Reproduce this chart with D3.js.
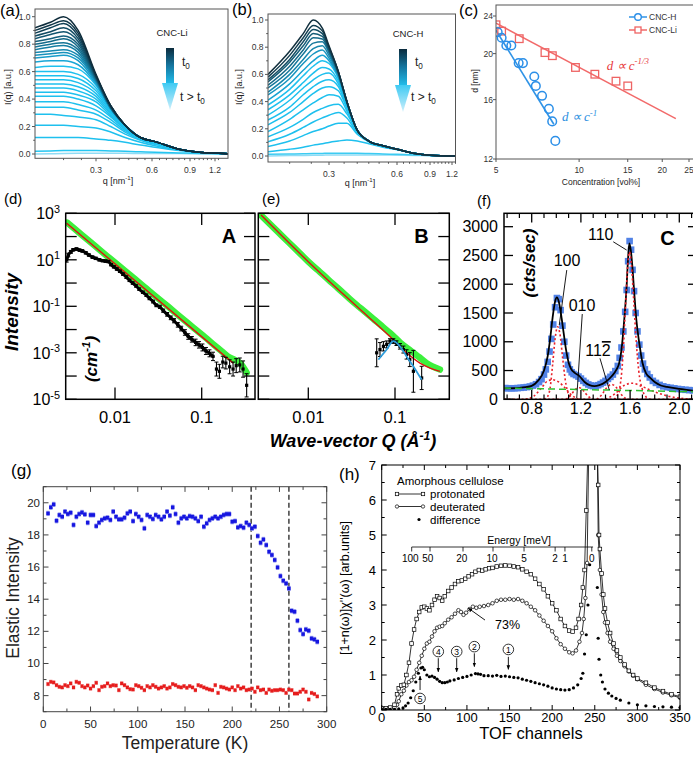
<!DOCTYPE html>
<html><head><meta charset="utf-8">
<script src="https://cdn.jsdelivr.net/npm/d3@7"></script>
<style>html,body{margin:0;padding:0;background:#fff;}svg{display:block;}</style>
</head><body>
<svg id="fig" width="693" height="757" viewBox="0 0 693 757"></svg>
<script>
// ================= DATA =================
// (a) CNC-Li SAXS curves, I(q) at fixed q grid, top (t0) to bottom (t>t0)
const aQ=[0.14,0.17,0.2,0.24,0.3,0.36,0.43,0.52,0.62,0.8,1.0,1.4];
const aCurves=[
[.92,.96,1.0,.90,.58,.35,.21,.12,.09,.035,.012,.002],
[.90,.94,.97,.88,.57,.35,.21,.12,.09,.035,.012,.002],
[.88,.92,.95,.86,.57,.35,.21,.12,.09,.035,.012,.002],
[.86,.89,.92,.84,.56,.35,.21,.12,.09,.035,.012,.002],
[.84,.87,.89,.82,.56,.34,.21,.12,.09,.035,.012,.002],
[.82,.84,.86,.80,.55,.34,.21,.12,.09,.035,.012,.002],
[.80,.82,.84,.78,.55,.34,.21,.12,.09,.035,.012,.002],
[.78,.80,.81,.76,.54,.34,.21,.12,.09,.035,.012,.002],
[.76,.78,.79,.74,.54,.34,.21,.12,.09,.035,.012,.002],
[.74,.75,.76,.72,.53,.33,.21,.12,.09,.035,.012,.002],
[.72,.73,.74,.70,.53,.33,.21,.12,.09,.035,.012,.002],
[.70,.71,.72,.68,.52,.33,.21,.12,.09,.035,.012,.002],
[.67,.68,.68,.65,.51,.33,.21,.12,.09,.035,.012,.002],
[.63,.64,.64,.62,.50,.33,.21,.12,.09,.035,.012,.002],
[.60,.60,.60,.58,.48,.32,.21,.12,.09,.035,.012,.002],
[.57,.57,.57,.55,.46,.32,.20,.12,.09,.035,.012,.002],
[.54,.54,.54,.52,.44,.31,.20,.12,.09,.035,.012,.002],
[.51,.51,.51,.49,.42,.30,.20,.12,.09,.035,.012,.002],
[.48,.48,.48,.46,.40,.29,.19,.12,.09,.035,.012,.002],
[.45,.45,.45,.43,.38,.28,.19,.12,.085,.035,.012,.002],
[.42,.42,.42,.40,.35,.27,.18,.115,.085,.035,.012,.002],
[.38,.38,.38,.36,.32,.25,.17,.11,.08,.034,.012,.002],
[.34,.34,.34,.32,.29,.23,.16,.105,.075,.033,.012,.002],
[.29,.29,.28,.27,.25,.20,.145,.10,.07,.032,.012,.002],
[.21,.21,.21,.20,.19,.16,.12,.085,.06,.03,.011,.002],
[.12,.12,.12,.12,.11,.10,.085,.065,.05,.025,.01,.002],
[.02,.022,.025,.025,.025,.022,.02,.016,.012,.008,.004,.001],
[.0,.002,.004,.005,.005,.005,.005,.004,.004,.003,.002,.001]];
const abXTicks=[0.3,0.6,0.9,1.2];
const abYTicks=[0,0.2,0.4,0.6,0.8,1.0];

// (b) CNC-H SAXS curves
const bQ=[0.16,0.2,0.23,0.255,0.28,0.3,0.33,0.36,0.4,0.45,0.52,0.6,0.75,0.9,1.25];
const bCurves=[
[.60,.77,.90,1.0,.94,.81,.62,.40,.19,.11,.075,.05,.018,.006,0],
[.58,.74,.87,.96,.92,.80,.62,.40,.19,.11,.075,.05,.018,.006,0],
[.56,.71,.84,.93,.90,.79,.62,.40,.19,.11,.075,.05,.018,.006,0],
[.545,.69,.81,.90,.88,.78,.61,.40,.19,.11,.075,.05,.018,.006,0],
[.52,.66,.78,.87,.86,.77,.61,.40,.19,.11,.075,.05,.018,.006,0],
[.50,.63,.75,.83,.84,.76,.60,.40,.19,.11,.075,.05,.018,.006,0],
[.47,.60,.71,.79,.81,.74,.60,.39,.19,.11,.075,.05,.018,.006,0],
[.45,.57,.68,.75,.78,.72,.59,.39,.19,.11,.075,.05,.018,.006,0],
[.41,.53,.63,.70,.74,.70,.58,.39,.19,.11,.075,.05,.018,.006,0],
[.375,.49,.59,.66,.70,.68,.57,.38,.19,.11,.075,.05,.018,.006,0],
[.34,.45,.54,.61,.65,.64,.55,.38,.19,.11,.075,.05,.018,.006,0],
[.30,.41,.50,.56,.60,.61,.53,.37,.19,.11,.075,.05,.018,.006,0],
[.265,.36,.45,.51,.55,.56,.51,.36,.19,.11,.075,.05,.018,.006,0],
[.23,.32,.40,.46,.50,.51,.48,.35,.19,.11,.075,.05,.018,.006,0],
[.18,.27,.34,.39,.43,.45,.44,.33,.18,.11,.075,.05,.018,.006,0],
[.142,.21,.27,.32,.35,.37,.38,.31,.18,.11,.075,.05,.018,.006,0],
[.105,.16,.21,.25,.28,.30,.32,.28,.17,.11,.075,.05,.018,.006,0],
[.07,.11,.15,.18,.20,.22,.24,.24,.16,.105,.07,.05,.018,.006,0],
[.032,.05,.065,.08,.09,.10,.11,.118,.11,.09,.065,.045,.018,.006,0],
[.012,.014,.016,.018,.019,.02,.02,.02,.02,.018,.015,.012,.008,.004,0],
[0,.003,.004,.005,.006,.007,.008,.008,.008,.008,.007,.006,.004,.002,0]];

// (c) spacing vs concentration
const cHconc=[5.07,5.24,5.45,5.68,6.04,6.26,6.88,6.97,7.34,7.77,7.99,8.2];
const cHd=[22.2,21.6,20.8,20.8,19.1,19.1,17.9,17.1,16.3,15.3,14.4,13.1];
const cLiconc=[5.0,5.24,6.07,7.52,8.0,9.7,11.4,13.6,15.0];
const cLid=[23.0,22.3,21.5,20.1,19.8,18.7,18.1,17.5,17.1];
const cHfit=[[4.95,22.6],[8.1,14.2]];
const cLifit=[[4.95,23.25],[22.4,14.6]];
const cXTicks=[5,10,15,20,25];
const cYTicks=[12,16,20,24];

// (d) panel A
const dGreenQ=[0.0028,0.0035,0.0045,0.006,0.008,0.01,0.013,0.017,0.022,0.03,0.04,0.052,0.068,0.088,0.11,0.14,0.17,0.2,0.24,0.28,0.33];
const dGreenI=[398,200,91,37,15.1,7.6,3.4,1.48,0.66,0.25,0.105,0.046,0.02,0.0091,0.0046,0.0021,0.00117,0.0007,0.0005,0.00035,0.00014];
const dRed=[[0.00277,372],[0.231,0.00036]];
const dBlackQ=[.00277,.0029,.0031,.0033,.0036,.0039,.0042,.0046,.005,.0055,.006,.0066,.0072,.0078,.0084,.009,.0097,.0105,.0114,.0124,.0135,.0147,.016,.0175,.019,.021,.023,.025,.0275,.03,.033,.036,.04,.044,.048,.053,.058,.064,.07,.077,.085,.093,.102,.112,.123,.135,.148,.16,.175,.19,.21,.23,.25,.275,.3,.33];
const dBlackI=[10,16,22,27,29,26,24,20,16,13,11.5,10,9.2,8.8,8.4,6.2,5,4,3.2,2.4,1.8,1.3,1.0,0.75,0.55,0.4,0.3,0.22,0.16,0.11,0.095,0.065,0.045,0.032,0.024,0.016,0.011,0.0075,0.005,0.0038,0.0028,0.0022,0.0017,0.0012,0.00095,0.0007,0.0002,0.00016,0.0004,0.00036,0.00025,0.0002,0.00028,0.0003,0.0002,0.00004];
const dBlackErr=[.1,.08,.06,.05,.05,.05,.05,.05,.05,.05,.05,.05,.05,.05,.05,.05,.05,.05,.05,.05,.05,.05,.05,.05,.05,.05,.05,.06,.06,.06,.07,.07,.08,.08,.09,.1,.1,.12,.12,.12,.14,.14,.15,.15,.15,.18,.3,.3,.25,.25,.3,.3,.3,.3,.35,.5];

// (e) panel B
const eGreenQ=[0.00282,0.0035,0.0045,0.006,0.008,0.01,0.013,0.017,0.022,0.03,0.0361,0.045,0.056,0.07,0.0875,0.1,0.114,0.13,0.145,0.163,0.19,0.232,0.27,0.33];
const eGreenI=[850,390,155,54,19,8.3,3.5,1.4,0.6,0.21,0.115,0.058,0.029,0.0145,0.0071,0.0045,0.0028,0.0019,0.0014,0.001,0.00065,0.00036,0.00026,0.00019];
const eRedQ=[0.00285,0.01,0.0361,0.0875,0.136,0.194,0.254,0.33];
const eRedI=[850,8.3,0.1,0.005,0.001,0.00036,0.00022,0.00016];
const eBlackQ=[.0615,.0671,.0735,.0802,.0875,.0957,.104,.114,.125,.136,.148,.163,.203];
const eBlackI=[.001,.00138,.0019,.0023,.0032,.0032,.0026,.0019,.00138,.00085,.00051,.00016,.000083];
const eBlackErr=[.6,.3,.2,.15,.1,.1,.1,.12,.15,.2,.3,.9,.5];
const eBlueQ=[.0643,.0802,.0957,.114,.136,.163,.203];
const eBlueI=[.00051,.00138,.0032,.0019,.0007,.00026,.00007];
const deXTicks=[0.01,0.1];
const deYExp=[3,2,1,0,-1,-2,-3,-4,-5];
const deYLabelExp=[3,1,-1,-3,-5];

// (f) panel C
const fSquares=[[0.585,195],[0.61,192],[0.635,190],[0.66,192],[0.685,195],[0.71,200],[0.735,205],[0.76,212],[0.785,222],[0.81,238],[0.835,262],[0.86,300],[0.88,350],[0.9,430],[0.915,520],[0.93,650],[0.945,830],[0.96,1050],[0.975,1300],[0.99,1600],[1.005,1760],[1.02,1740],[1.035,1550],[1.05,1280],[1.065,1000],[1.08,760],[1.095,600],[1.11,520],[1.125,470],[1.14,440],[1.16,420],[1.18,395],[1.2,360],[1.22,320],[1.24,285],[1.26,258],[1.28,240],[1.3,230],[1.32,232],[1.34,245],[1.36,265],[1.38,290],[1.4,320],[1.42,355],[1.44,390],[1.46,430],[1.48,490],[1.5,580],[1.515,720],[1.53,900],[1.545,1180],[1.56,1520],[1.572,1900],[1.584,2400],[1.596,2750],[1.608,2600],[1.62,2250],[1.632,1880],[1.645,1500],[1.66,1180],[1.675,950],[1.69,760],[1.705,620],[1.72,520],[1.74,440],[1.76,380],[1.785,320],[1.81,285],[1.84,250],[1.87,225],[1.9,210],[1.93,200],[1.96,190],[1.99,180],[2.02,172],[2.05,165],[2.08,160],[2.11,155]];
const fFit=[[0.575,190],[0.65,192],[0.7,198],[0.75,210],[0.8,232],[0.85,320],[0.9,500],[0.93,750],[0.95,1050],[0.97,1420],[0.99,1700],[1.005,1770],[1.02,1700],[1.04,1460],[1.06,1150],[1.08,850],[1.1,640],[1.12,530],[1.15,460],[1.19,400],[1.23,300],[1.27,245],[1.31,228],[1.35,245],[1.4,300],[1.45,400],[1.49,520],[1.51,620],[1.53,860],[1.55,1320],[1.57,1900],[1.585,2500],[1.594,2710],[1.605,2600],[1.615,2400],[1.632,1900],[1.65,1400],[1.675,970],[1.7,640],[1.73,450],[1.76,380],[1.8,300],[1.85,240],[1.9,215],[2.0,180],[2.11,150]];
const fComp100=[[0.9,0],[0.93,50],[0.95,200],[0.97,600],[0.99,1050],[1.01,1260],[1.03,1130],[1.05,750],[1.07,380],[1.09,150],[1.12,30],[1.15,0]];
const fCompBroad1=[[0.75,0],[0.82,60],[0.88,200],[0.93,320],[0.97,340],[1.02,300],[1.07,200],[1.12,80],[1.18,0]];
const fComp010=[[1.08,0],[1.12,80],[1.16,180],[1.19,200],[1.22,150],[1.26,50],[1.3,0]];
const fComp112=[[1.33,0],[1.37,80],[1.41,200],[1.45,260],[1.49,200],[1.53,80],[1.57,0]];
const fComp110=[[1.47,0],[1.51,150],[1.54,700],[1.56,1500],[1.58,2300],[1.594,2560],[1.61,2350],[1.63,1700],[1.65,1000],[1.67,500],[1.7,170],[1.73,40],[1.76,0]];
const fCompBroad2=[[1.4,0],[1.48,100],[1.55,240],[1.62,280],[1.7,220],[1.8,130],[1.9,60],[2.0,20],[2.11,5]];
const fZero=[[0.575,0],[2.11,0]];
const fBaseline=[[0.575,195],[2.11,132]];
const fXTicks=[0.8,1.2,1.6,2.0];
const fXMinor=[0.6,0.7,0.9,1.0,1.1,1.3,1.4,1.5,1.7,1.8,1.9,2.1];
const fYTicks=[0,500,1000,1500,2000,2500,3000];
const fPeakLabels=[{t:"110",q:1.361,v:2767,lq:[1.463,1.572],lv:[2738,2594]},
 {t:"100",q:1.087,v:2316,lq:[1.085,1.024],lv:[2246,1291]},
 {t:"010",q:1.209,v:1536,lq:[1.211,1.166],lv:[1482,17]},
 {t:"112",q:1.339,v:752,lq:[1.355,1.431],lv:[712,162],bar:true}];

// (g) elastic intensity vs temperature
const gTemp=[5,8,11,14,17,20,23,26,29,32,35,38,41,44,47,50,53,56,59,62,65,68,71,74,77,80,83,86,89,92,95,98,101,104,107,110,113,116,119,122,125,128,131,134,137,140,143,146,149,152,155,158,161,164,167,170,173,176,179,182,185,188,191,194,197,200,203,206,209,212,215,218,221,224,227,230,233,236,239,242,245,248,251,254,257,260,263,266,269,272,275,278,281,284,287,290];
const gBlue=[19.34,19.72,19.90,18.88,19.24,19.13,19.45,19.30,19.38,18.62,19.13,19.30,19.40,19.28,18.76,19.24,19.24,18.55,18.76,18.93,19.03,19.07,18.93,19.45,19.13,18.97,18.97,19.07,19.34,19.45,18.86,19.30,19.13,18.93,18.41,19.24,19.13,18.99,19.24,19.13,18.97,19.13,19.45,19.20,19.72,19.30,18.76,19.03,19.13,19.03,19.17,19.13,19.03,18.86,19.13,18.51,18.72,18.93,19.03,19.13,19.03,19.13,19.24,19.30,19.30,18.82,18.86,18.47,18.55,18.45,18.76,18.62,18.41,18.51,17.93,17.51,17.72,17.37,16.95,16.75,16.44,15.98,15.44,15.15,14.98,14.67,13.28,13.22,12.66,12.08,11.83,12.12,12.04,11.56,11.50,11.35];
const gRed=[8.72,8.86,8.82,8.65,8.55,8.51,8.65,8.59,8.76,8.51,8.86,8.80,8.59,8.51,8.63,8.44,8.59,8.80,8.34,8.55,8.59,8.76,8.59,8.65,8.63,8.34,8.76,8.65,8.51,8.40,8.38,8.65,8.59,8.49,8.34,8.59,8.51,8.65,8.55,8.44,8.51,8.59,8.44,8.51,8.72,8.65,8.55,8.51,8.59,8.49,8.59,8.51,8.34,8.65,8.59,8.51,8.44,8.38,8.34,8.65,8.17,8.55,8.51,8.44,8.38,8.51,8.34,8.59,8.44,8.51,8.34,8.38,8.44,8.24,8.51,8.34,8.38,8.17,8.38,8.30,8.34,8.34,8.38,8.34,8.17,8.38,8.34,8.13,8.13,8.24,8.38,8.24,7.76,8.17,8.10,7.95];
const gDashedT=[220,260];
const gXTicks=[0,50,100,150,200,250,300];
const gYTicks=[8,10,12,14,16,18,20];

// (h) TOF spectra
const hProtLeft=[[0,0.05],[5,0.05],[10,0.07],[15,0.15],[18,0.45],[20,0.62],[23,0.7],[26,0.72],[29,1.0],[32,1.35],[35,1.9],[38,2.3],[41,2.6],[44,2.8],[47,2.93],[50,2.95],[53,2.9],[56,2.85],[59,3.0],[62,3.15],[65,3.25],[68,3.2],[71,3.12],[74,3.25],[78,3.4],[82,3.5],[86,3.6],[90,3.68],[94,3.7],[98,3.75],[102,3.82],[106,3.88],[110,3.95],[114,4.0],[118,3.98],[122,4.02],[126,4.05],[130,4.06],[135,4.1],[140,4.12],[145,4.13],[150,4.12],[155,4.1],[160,4.08],[165,4.02],[170,3.95],[175,3.88],[180,3.75],[185,3.6],[190,3.45],[195,3.25],[200,3.05],[205,2.85],[210,2.6],[215,2.4],[220,2.27],[224,2.24],[228,2.35],[231,2.6],[234,3.0],[236,3.5],[238,4.0],[240,5.7],[242,7.5],[244,30]];
const hProtRight=[[251,30],[253,7.5],[254,6.43],[255,5.0],[256,4.6],[258,3.9],[260,3.3],[262,2.9],[265,2.5],[268,2.2],[272,1.9],[276,1.7],[280,1.5],[285,1.3],[290,1.12],[295,1.0],[300,0.9],[310,0.78],[320,0.64],[330,0.54],[340,0.45],[350,0.38]];
const hDeutLeft=[[0,0.05],[10,0.05],[15,0.07],[18,0.15],[20,0.25],[23,0.45],[26,0.55],[29,0.7],[32,0.8],[35,0.85],[38,0.95],[41,1.15],[44,1.35],[47,1.55],[50,1.75],[53,1.9],[56,1.95],[59,2.1],[62,2.25],[65,2.35],[68,2.38],[71,2.4],[74,2.48],[78,2.58],[82,2.65],[86,2.75],[90,2.85],[93,2.8],[96,2.72],[99,2.78],[103,2.88],[107,2.95],[111,2.92],[115,2.95],[120,2.97],[125,3.0],[130,3.05],[135,3.12],[140,3.15],[145,3.15],[150,3.17],[155,3.15],[160,3.17],[165,3.12],[170,3.05],[175,2.95],[180,2.85],[185,2.7],[190,2.55],[195,2.4],[200,2.25],[205,2.05],[210,1.88],[215,1.75],[220,1.65],[224,1.62],[228,1.7],[232,1.95],[235,2.2],[237,2.6],[239,3.2],[241,4.2],[243,7.5],[245,30]];
const hDeutRight=[[251,30],[253,7.5],[254,5.0],[256,4.0],[258,3.3],[260,2.8],[262,2.5],[265,2.2],[268,1.95],[272,1.75],[276,1.55],[280,1.4],[285,1.25],[290,1.1],[295,0.98],[300,0.88],[310,0.72],[320,0.6],[330,0.5],[340,0.42],[350,0.35]];
const hDiff=[[0,0.02],[5,0.02],[10,0.02],[15,0.02],[20,0.03],[25,0.06],[28,0.12],[31,0.2],[34,0.35],[37,0.55],[40,0.8],[43,1.05],[46,1.2],[48,1.22],[50,1.15],[53,1.0],[56,0.95],[59,0.97],[62,0.93],[65,0.88],[68,0.82],[71,0.78],[74,0.78],[77,0.8],[80,0.83],[85,0.86],[90,0.9],[95,0.93],[100,0.96],[105,1.0],[110,1.04],[113,1.03],[116,1.02],[120,0.98],[125,0.98],[130,0.97],[135,0.99],[140,0.96],[145,0.97],[150,0.95],[155,0.93],[160,0.92],[165,0.88],[170,0.85],[175,0.82],[180,0.78],[185,0.75],[190,0.72],[195,0.68],[200,0.63],[205,0.6],[210,0.58],[215,0.57],[220,0.58],[225,0.63],[230,0.72],[234,0.9],[236,1.05],[238,1.6],[240,2.15],[242,3.0],[244,4.15],[253,3.5],[254,2.05],[255,1.45],[257,1.0],[259,0.8],[262,0.6],[266,0.48],[270,0.4],[275,0.33],[280,0.28],[290,0.2],[300,0.15],[310,0.12],[320,0.1],[330,0.09],[340,0.08],[350,0.07]];
const hArrows=[{n:"4",ch:66.4,lab:1.67,y1:1.48,y2:1.09},{n:"3",ch:88,lab:1.67,y1:1.48,y2:1.09},{n:"2",ch:108.7,lab:1.81,y1:1.62,y2:1.24},{n:"1",ch:148.6,lab:1.73,y1:1.52,y2:1.16},{n:"5",ch:45,lab:0.33,y1:0.57,y2:0.97}];
const hEnergyLabels=["100","50","20","10","5","2","1","0"];
const hEnergyLabelCh=[33.5,54,94,129.5,167,203.5,215,246.5];
const hEnergyTickCh=[35.2,56.7,95.4,130.6,167,203.5,215,246.5];
const hEnergyAxisCh=[35.2,248];
const hXTicks=[0,50,100,150,200,250,300,350];
const hYTicks=[0,1,2,3,4,5,6,7];

// ================= DRAWING =================
const svg=d3.select("#fig");
const SANS='"Liberation Sans", Arial, Helvetica, sans-serif';
const SERIF='"Liberation Serif", "Times New Roman", serif';
const defs=svg.append("defs");
function addClip(id,x0,y0,x1,y1){defs.append("clipPath").attr("id",id).append("rect").attr("x",x0).attr("y",y0).attr("width",x1-x0).attr("height",y1-y0);}
function text(g,x,y,s,o){o=o||{};const t=g.append("text").attr("x",x).attr("y",y).attr("font-family",o.ff||SANS).attr("font-size",o.fs||10).attr("fill",o.fill||"#000").attr("text-anchor",o.anchor||"start");if(o.fw)t.attr("font-weight",o.fw);if(o.st)t.attr("font-style",o.st);if(o.rot!=null)t.attr("transform",`rotate(${o.rot},${x},${y})`);if(s!=null)t.text(s);return t;}
function rich(g,x,y,parts,o){o=o||{};const fs=o.fs||10;const t=text(g,x,y,null,o);let cur=0;parts.forEach(p=>{const k=p[1]||"n";const sh=k==="sup"?-0.4*fs:(k==="sub"?0.28*fs:0);const ts=t.append("tspan").attr("dy",sh-cur).text(p[0]);if(k!=="n")ts.attr("font-size",fs*0.68);cur=sh;});return t;}
function line(g,x1,y1,x2,y2,o){o=o||{};const l=g.append("line").attr("x1",x1).attr("y1",y1).attr("x2",x2).attr("y2",y2).attr("stroke",o.stroke||"#000").attr("stroke-width",o.sw||1);if(o.dash)l.attr("stroke-dasharray",o.dash);if(o.marker)l.attr("marker-end",o.marker);return l;}
function frame(g,x0,y0,x1,y1,o){o=o||{};g.append("rect").attr("x",x0).attr("y",y0).attr("width",x1-x0).attr("height",y1-y0).attr("fill","none").attr("stroke",o.stroke||"#000").attr("stroke-width",o.sw||1);}
function path(g,d,o){o=o||{};const p=g.append("path").attr("d",d).attr("fill","none").attr("stroke",o.stroke||"#000").attr("stroke-width",o.sw||1);if(o.dash)p.attr("stroke-dasharray",o.dash);if(o.cap)p.attr("stroke-linecap",o.cap).attr("stroke-linejoin","round");return p;}

defs.append("marker").attr("id","arr").attr("viewBox","0 0 10 10").attr("refX",9).attr("refY",5).attr("markerWidth",5).attr("markerHeight",5).attr("orient","auto")
 .append("path").attr("d","M0,1 L10,5 L0,9 Z").attr("fill","#000");
const gb=defs.append("linearGradient").attr("id","gbar").attr("x1",0).attr("y1",0).attr("x2",0).attr("y2",1);
gb.append("stop").attr("offset",0).attr("stop-color","#0b2b3d");
gb.append("stop").attr("offset",0.5).attr("stop-color","#15769f");
gb.append("stop").attr("offset",1).attr("stop-color","#21bbe9");
const gh=defs.append("linearGradient").attr("id","ghead").attr("x1",0).attr("y1",0).attr("x2",0).attr("y2",1);
gh.append("stop").attr("offset",0).attr("stop-color","#3fcaf3");
gh.append("stop").attr("offset",1).attr("stop-color","#cdeffb");

// ---------- (a) & (b) ----------
function saxsPanel(cfg){
 const g=svg.append("g");
 const x=d3.scaleLog().domain(cfg.xd).range(cfg.xr);
 const y=d3.scaleLinear().domain([0,1]).range(cfg.yr);
 addClip(cfg.id,cfg.x0,cfg.y0,cfg.x1,cfg.y1);
 const ln=d3.line().x((d,i)=>x(cfg.q[i])).y(d=>y(d)).curve(d3.curveMonotoneX);
 const cg=g.append("g").attr("clip-path",`url(#${cfg.id})`);
 for(let i=cfg.curves.length-1;i>=0;i--) path(cg,ln(cfg.curves[i]),{stroke:cfg.color(i),sw:1.5});
 frame(g,cfg.x0,cfg.y0,cfg.x1,cfg.y1,{stroke:"#555"});
 abYTicks.forEach(v=>{line(g,cfg.x0,y(v),cfg.x0-3,y(v),{stroke:"#555"});text(g,cfg.x0-4.5,y(v)+3,d3.format(".1f")(v),{fs:8.5,anchor:"end",fill:"#333"});});
 [0.1,0.3,0.5,0.7,0.9].forEach(v=>line(g,cfg.x0,y(v),cfg.x0-1.8,y(v),{stroke:"#555"}));
 abXTicks.forEach(v=>{line(g,x(v),cfg.y1,x(v),cfg.y1+3,{stroke:"#555"});text(g,x(v),cfg.y1+14.5,String(v),{fs:8.5,anchor:"middle",fill:"#333"});});
 d3.range(0.2,1.26,0.05).forEach(v=>{const r=Math.round(v*100)/100;if(r<cfg.xd[0]||r>cfg.xd[cfg.xd.length-1]||abXTicks.includes(r))return;line(g,x(r),cfg.y1,x(r),cfg.y1+1.8,{stroke:"#555"});});
 rich(g,cfg.xlab[0],cfg.xlab[1],[["q [nm"],["-1","sup"],["]"]],{fs:9,anchor:"middle",fill:"#222"});
 text(g,cfg.ylab[0],cfg.ylab[1],"I(q) [a.u.]",{fs:9,anchor:"middle",rot:-90,fill:"#222"});
 text(g,cfg.name[0],cfg.name[1],cfg.name[2],{fs:9.5,anchor:"middle",fill:"#222"});
 const ax=cfg.arrowX;
 g.append("rect").attr("x",ax-4).attr("y",cfg.arrowY[0]).attr("width",8).attr("height",cfg.arrowY[1]-cfg.arrowY[0]).attr("fill","url(#gbar)");
 g.append("path").attr("d",`M${ax-8},${cfg.arrowY[1]} L${ax+8},${cfg.arrowY[1]} L${ax},${cfg.arrowY[2]} Z`).attr("fill","url(#ghead)");
 rich(g,cfg.t0[0],cfg.t0[1],[["t"],["0","sub"]],{fs:12,fill:"#222"});
 rich(g,cfg.tt[0],cfg.tt[1],[["t > t"],["0","sub"]],{fs:12,fill:"#222"});
 text(g,cfg.lab[0],cfg.lab[1],cfg.lab[2],{fs:16.5});
}
saxsPanel({id:"clipA",q:aQ,curves:aCurves,xd:[0.14,0.3,0.6,0.9,1.2,1.4],xr:[35,96,152,190,215,228],yr:[154,16.7],x0:35,y0:9,x1:228,y1:158.3,
 color:i=>i<13?d3.interpolateRgb("#0f2d3c","#18a6d6")(i/12):(i<26?"#1ec0ee":(i===26?"#25c6f1":"#8fdcf5")),
 xlab:[118,184],ylab:[11,87],name:[172,36,"CNC-Li"],arrowX:170,arrowY:[48,83,110],t0:[182,66],tt:[180,101],lab:[0,16,"(a)"]});
saxsPanel({id:"clipB",q:bQ,curves:bCurves,xd:[0.16,0.3,0.6,0.9,1.2,1.25],xr:[268,329,397,430,452,455.5],yr:[156,20],x0:268,y0:14,x1:455.5,y1:162,
 color:i=>i<9?d3.interpolateRgb("#13313f","#19a3d2")(i/8):(i<19?"#1ec0ee":(i===19?"#3ccbf2":"#8fdcf5")),
 xlab:[360,186],ylab:[242,87],name:[408,37,"CNC-H"],arrowX:403,arrowY:[49,85,112],t0:[415,66],tt:[411,101],lab:[232,15,"(b)"]});

// ---------- (c) ----------
{
 const g=svg.append("g");
 const x=d3.scaleLog().domain([5,25]).range([496,689]);
 const y=d3.scaleLog().domain([12,24]).range([159,16]);
 addClip("clipC",496,5,700,159);
 const cg=g.append("g").attr("clip-path","url(#clipC)");
 const ln=d3.line().x(d=>x(d[0])).y(d=>y(d[1]));
 path(cg,ln(cLifit),{stroke:"#f26a6a",sw:1.5});
 path(cg,ln(cHfit),{stroke:"#2f93e6",sw:1.6});
 cLiconc.forEach((c,i)=>cg.append("rect").attr("x",x(c)-3.8).attr("y",y(cLid[i])-3.8).attr("width",7.6).attr("height",7.6).attr("fill","none").attr("stroke","#ee6464").attr("stroke-width",1.3));
 cHconc.forEach((c,i)=>cg.append("circle").attr("cx",x(c)).attr("cy",y(cHd[i])).attr("r",4.3).attr("fill","none").attr("stroke","#2b8fe8").attr("stroke-width",1.5));
 frame(g,496,5,700,159,{stroke:"#555"});
 cYTicks.forEach(v=>{line(g,496,y(v),493,y(v),{stroke:"#555"});text(g,493,y(v)+3,String(v),{fs:8.5,anchor:"end",fill:"#333"});});
 cXTicks.forEach(v=>{line(g,x(v),159,x(v),162,{stroke:"#555"});text(g,x(v),173,String(v),{fs:8.5,anchor:"middle",fill:"#333"});});
 text(g,601,185,"Concentration [vol%]",{fs:8.5,anchor:"middle",fill:"#222"});
 text(g,478,81,"d [nm]",{fs:8.5,anchor:"middle",rot:-90,fill:"#222"});
 line(g,629,17,647,17,{stroke:"#2f93e6",sw:1.5});
 g.append("circle").attr("cx",638).attr("cy",17).attr("r",3.3).attr("fill","#fff").attr("stroke","#2b8fe8").attr("stroke-width",1.4);
 text(g,649,20,"CNC-H",{fs:8.5,fill:"#333"});
 line(g,629,30,647,30,{stroke:"#f26a6a",sw:1.5});
 g.append("rect").attr("x",635).attr("y",27).attr("width",6).attr("height",6).attr("fill","#fff").attr("stroke","#ee6464").attr("stroke-width",1.3);
 text(g,649,33,"CNC-Li",{fs:8.5,fill:"#333"});
 rich(g,x(12.6),y(18.5),[["d ∝ c"],["-1/3","sup"]],{fs:13,ff:SERIF,st:"italic",fill:"#e8383a"});
 rich(g,x(8.67),y(14.4),[["d ∝ c"],["-1","sup"]],{fs:13,ff:SERIF,st:"italic",fill:"#2a8ee0"});
 text(g,459,16,"(c)",{fs:16.5});
}

// ---------- (d) & (e) ----------
const ylog=d3.scaleLog().domain([1e-5,1e3]).range([399.3,213.3]);
function loglogPanel(cfg){
 const g=svg.append("g");
 const x=d3.scaleLog().domain([0.01,0.1]).range(cfg.xr);
 addClip(cfg.id,cfg.x0,213.3,cfg.x1,399.3);
 const cg=g.append("g").attr("clip-path",`url(#${cfg.id})`);
 const ln=d3.line().x(d=>x(d[0])).y(d=>ylog(d[1])).curve(d3.curveMonotoneX);
 path(cg,ln(cfg.greenQ.map((q,i)=>[q,cfg.greenI[i]])),{stroke:"#3cf03c",sw:6.5,cap:"round"});
 path(cg,ln(cfg.red),{stroke:"#e01010",sw:1.4});
 if(cfg.band){const pts=cfg.blackQ.map((q,i)=>[q,cfg.blackI[i]]).filter(d=>d[0]<=cfg.band);path(cg,ln(pts),{stroke:"#000",sw:3,cap:"round"});}
 cfg.blackQ.forEach((q,i)=>{
  const v=cfg.blackI[i],e=cfg.blackErr[i],xx=x(q);
  const y1=ylog(v*Math.pow(10,e)),y2=ylog(v/Math.pow(10,e));
  line(cg,xx,y1,xx,y2,{sw:1.1});line(cg,xx-2,y1,xx+2,y1,{sw:1});line(cg,xx-2,y2,xx+2,y2,{sw:1});
  cg.append("rect").attr("x",xx-1.6).attr("y",ylog(v)-1.6).attr("width",3.2).attr("height",3.2).attr("fill","#000");
 });
 if(cfg.blue) path(cg,ln(cfg.blue),{stroke:"#2d9cdb",sw:1.8});
 frame(g,cfg.x0,213.3,cfg.x1,399.3,{sw:1.5});
 deYExp.forEach(k=>{const yy=ylog(Math.pow(10,k));line(g,cfg.x0,yy,cfg.x0+11,yy,{sw:1.3});line(g,cfg.x1,yy,cfg.x1-11,yy,{sw:1.3});});
 deXTicks.forEach(v=>{line(g,x(v),213.3,x(v),225,{sw:1.3});line(g,x(v),399.3,x(v),387.5,{sw:1.3});text(g,x(v),423,String(v),{fs:16.5,anchor:"middle"});});
 if(cfg.ylabels) deYLabelExp.forEach(k=>rich(g,60,ylog(Math.pow(10,k))+6,[["10"],[String(k),"sup"]],{fs:16,anchor:"end"}));
 text(g,cfg.letter[0],cfg.letter[1],cfg.letter[2],{fs:20,fw:"bold",anchor:"middle"});
 text(g,cfg.lab[0],cfg.lab[1],cfg.lab[2],{fs:15});
}
loglogPanel({id:"clipD",xr:[115,201.7],x0:65.7,x1:255,greenQ:dGreenQ,greenI:dGreenI,red:dRed,blackQ:dBlackQ,blackI:dBlackI,blackErr:dBlackErr,band:0.136,ylabels:true,letter:[229,243,"A"],lab:[4,204,"(d)"]});
loglogPanel({id:"clipE",xr:[308.3,395],x0:258.3,x1:449.3,greenQ:eGreenQ,greenI:eGreenI,red:eRedQ.map((q,i)=>[q,eRedI[i]]),blackQ:eBlackQ,blackI:eBlackI,blackErr:eBlackErr,blue:eBlueQ.map((q,i)=>[q,eBlueI[i]]),ylabels:false,letter:[421.5,243,"B"],lab:[262,204,"(e)"]});
text(svg,18,312,"Intensity",{fs:19,fw:"bold",st:"italic",anchor:"middle",rot:-90});
rich(svg,97,359,[["(cm"],["-1","sup"],[")"]],{fs:17,fw:"bold",st:"italic",anchor:"middle",rot:-90});
rich(svg,353,447,[["Wave-vector Q (Å"],["-1","sup"],[")"]],{fs:18,fw:"bold",st:"italic",anchor:"middle"});

// ---------- (f) ----------
{
 const g=svg.append("g");
 const x=d3.scaleLinear().domain([0.8,2.0]).range([531.7,679.3]);
 const y=d3.scaleLinear().domain([0,3000]).range([399.3,226.7]);
 addClip("clipF",504,213.3,697,399.3);
 const cg=g.append("g").attr("clip-path","url(#clipF)");
 const ln=d3.line().x(d=>x(d[0])).y(d=>y(d[1])).curve(d3.curveMonotoneX);
 fSquares.forEach(d=>cg.append("rect").attr("x",x(d[0])-3.3).attr("y",y(d[1])-3.3).attr("width",6.6).attr("height",6.6).attr("fill","#5182e6"));
 path(cg,ln(fFit),{stroke:"#000",sw:1.8});
 [fCompBroad1,fComp100,fComp010,fComp112,fComp110,fCompBroad2,fZero].forEach(c=>path(cg,ln(c),{stroke:"#e8202a",sw:1.6,dash:"2,2.4"}));
 path(cg,ln(fBaseline),{stroke:"#2fbf2f",sw:1.5,dash:"7,4"});
 frame(g,504,213.3,697,399.3,{sw:1.5});
 fYTicks.forEach(v=>{line(g,504,y(v),513,y(v),{sw:1.3});line(g,697,y(v),688,y(v),{sw:1.3});text(g,498,y(v)+5.5,String(v),{fs:16,anchor:"end"});});
 fXTicks.forEach(v=>{line(g,x(v),399.3,x(v),390,{sw:1.3});line(g,x(v),213.3,x(v),222.5,{sw:1.3});text(g,x(v),414,v.toFixed(1),{fs:16,anchor:"middle"});});
 fXMinor.forEach(v=>{line(g,x(v),399.3,x(v),394.5,{sw:1.2});line(g,x(v),213.3,x(v),218,{sw:1.2});});
 fPeakLabels.forEach(p=>{
  line(g,x(p.lq[0]),y(p.lv[0]),x(p.lq[1]),y(p.lv[1]),{sw:0.9});
  const t=text(g,x(p.q),y(p.v),null,{fs:16,anchor:"middle"});
  if(p.bar){t.append("tspan").text(p.t.slice(0,2));t.append("tspan").attr("text-decoration","overline").text(p.t.slice(2));}
  else t.text(p.t);
 });
 text(g,667.5,245,"C",{fs:20,fw:"bold",anchor:"middle"});
 text(g,535,263,"(cts/sec)",{fs:17,fw:"bold",st:"italic",anchor:"middle",rot:-90});
 text(g,477,206,"(f)",{fs:15});
}

// ---------- (g) ----------
{
 const g=svg.append("g");
 const x=d3.scaleLinear().domain([0,300]).range([43.3,326.7]);
 const y=d3.scaleLinear().domain([7,21]).range([711.7,486.7]);
 gDashedT.forEach(t=>line(g,x(t),486.7,x(t),711.7,{stroke:"#222",sw:1.3,dash:"5,3"}));
 function pts(vals,col,ecol,err,sz){vals.forEach((v,i)=>{const xx=x(gTemp[i]),y1=y(v+err),y2=y(v-err);
  line(g,xx,y1,xx,y2,{stroke:ecol,sw:0.9});line(g,xx-1.6,y1,xx+1.6,y1,{stroke:ecol,sw:0.9});line(g,xx-1.6,y2,xx+1.6,y2,{stroke:ecol,sw:0.9});
  g.append("rect").attr("x",xx-sz/2).attr("y",y(v)-sz/2).attr("width",sz).attr("height",sz).attr("fill",col);});}
 pts(gBlue,"#1616e0","#8d93ee",0.13,3.6);
 pts(gRed,"#e61c1c","#f09090",0.1,3.2);
 frame(g,43.3,486.7,326.7,711.7,{stroke:"#444"});
 gXTicks.forEach(v=>{line(g,x(v),711.7,x(v),706.5,{stroke:"#444"});line(g,x(v),486.7,x(v),491.9,{stroke:"#444"});text(g,x(v),728,String(v),{fs:11.5,anchor:"middle",fill:"#222"});});
 d3.range(25,300,50).forEach(v=>{line(g,x(v),711.7,x(v),708.5,{stroke:"#444"});line(g,x(v),486.7,x(v),489.9,{stroke:"#444"});});
 gYTicks.forEach(v=>{line(g,43.3,y(v),48.5,y(v),{stroke:"#444"});line(g,326.7,y(v),321.5,y(v),{stroke:"#444"});text(g,40,y(v)+4,String(v),{fs:11.5,anchor:"end",fill:"#222"});});
 d3.range(7,22,2).forEach(v=>{line(g,43.3,y(v),46.5,y(v),{stroke:"#444"});line(g,326.7,y(v),323.5,y(v),{stroke:"#444"});});
 text(g,185,749,"Temperature (K)",{fs:17.5,anchor:"middle",fill:"#222"});
 text(g,19,598,"Elastic Intensity",{fs:17.5,anchor:"middle",rot:-90,fill:"#222"});
 text(g,11,476,"(g)",{fs:17});
}

// ---------- (h) ----------
{
 const g=svg.append("g");
 const x=d3.scaleLinear().domain([0,350]).range([381.7,680]);
 const y=d3.scaleLinear().domain([0,7]).range([710,465]);
 addClip("clipH",381.7,465,680,710);
 const cg=g.append("g").attr("clip-path","url(#clipH)");
 const ln=d3.line().x(d=>x(d[0])).y(d=>y(d[1]));
 [hProtLeft,hProtRight,hDeutLeft,hDeutRight].forEach(s=>path(cg,ln(s),{sw:0.8}));
 hDeutLeft.concat(hDeutRight).forEach(d=>cg.append("circle").attr("cx",x(d[0])).attr("cy",y(d[1])).attr("r",1.8).attr("fill","#fff").attr("stroke","#000").attr("stroke-width",0.7));
 hProtLeft.concat(hProtRight).forEach(d=>cg.append("rect").attr("x",x(d[0])-1.8).attr("y",y(d[1])-1.8).attr("width",3.6).attr("height",3.6).attr("fill","#fff").attr("stroke","#000").attr("stroke-width",0.7));
 hDiff.forEach(d=>cg.append("circle").attr("cx",x(d[0])).attr("cy",y(d[1])).attr("r",1.6).attr("fill","#000"));
 frame(g,381.7,465,680,710,{sw:1});
 hXTicks.forEach(v=>{line(g,x(v),710,x(v),705,{});line(g,x(v),465,x(v),470,{});text(g,x(v),722,String(v),{fs:13,anchor:"middle"});});
 d3.range(25,350,50).forEach(v=>{line(g,x(v),710,x(v),707,{});line(g,x(v),465,x(v),468,{});});
 hYTicks.forEach(v=>{line(g,381.7,y(v),386.7,y(v),{});line(g,680,y(v),675,y(v),{});text(g,376,y(v)+4.5,String(v),{fs:13,anchor:"end"});});
 d3.range(0.5,7,1).forEach(v=>{line(g,381.7,y(v),384.7,y(v),{});line(g,680,y(v),677,y(v),{});});
 text(g,531,739,"TOF channels",{fs:16.5,anchor:"middle"});
 text(g,349,588,"[1+n(ω)]χ''(ω)  [arb.units]",{fs:12.5,anchor:"middle",rot:-90});
 // legend
 text(g,397,484.5,"Amorphous cellulose",{fs:11.5});
 line(g,397,494,423,494,{sw:0.8});[397,423].forEach(xx=>g.append("rect").attr("x",xx-1.7).attr("y",492.3).attr("width",3.4).attr("height",3.4).attr("fill","#fff").attr("stroke","#000").attr("stroke-width",0.7));
 text(g,430,498,"protonated",{fs:11.5});
 line(g,397,506.5,423,506.5,{sw:0.8});[397,423].forEach(xx=>g.append("circle").attr("cx",xx).attr("cy",506.5).attr("r",1.7).attr("fill","#fff").attr("stroke","#000").attr("stroke-width",0.7));
 text(g,430,510.5,"deuterated",{fs:11.5});
 g.append("circle").attr("cx",419).attr("cy",519.5).attr("r",1.6).attr("fill","#000");
 text(g,430,523.5,"difference",{fs:11.5});
 // energy axis
 line(g,x(hEnergyAxisCh[0]),547,x(hEnergyAxisCh[1]),547,{sw:0.8});
 hEnergyTickCh.forEach(c=>line(g,x(c),547,x(c),551.5,{sw:0.8}));
 hEnergyLabelCh.forEach((c,i)=>text(g,x(c),562,hEnergyLabels[i],{fs:10,anchor:"middle"}));
 text(g,519,543.5,"Energy [meV]",{fs:10.5,anchor:"middle"});
 hArrows.forEach(a=>{
  g.append("circle").attr("cx",x(a.ch)).attr("cy",y(a.lab)).attr("r",5.3).attr("fill","#fff").attr("stroke","#000").attr("stroke-width",0.8);
  text(g,x(a.ch),y(a.lab)+3.2,a.n,{fs:8.5,anchor:"middle"});
  line(g,x(a.ch),y(a.y1),x(a.ch),y(a.y2),{sw:0.9,marker:"url(#arr)"});
 });
 line(g,x(121.2),y(2.57),x(101.6),y(2.91),{sw:0.9,marker:"url(#arr)"});
 text(g,x(133),y(2.48)+6,"73%",{fs:12.5});
 text(g,339,480,"(h)",{fs:17});
}
</script>
</body></html>
